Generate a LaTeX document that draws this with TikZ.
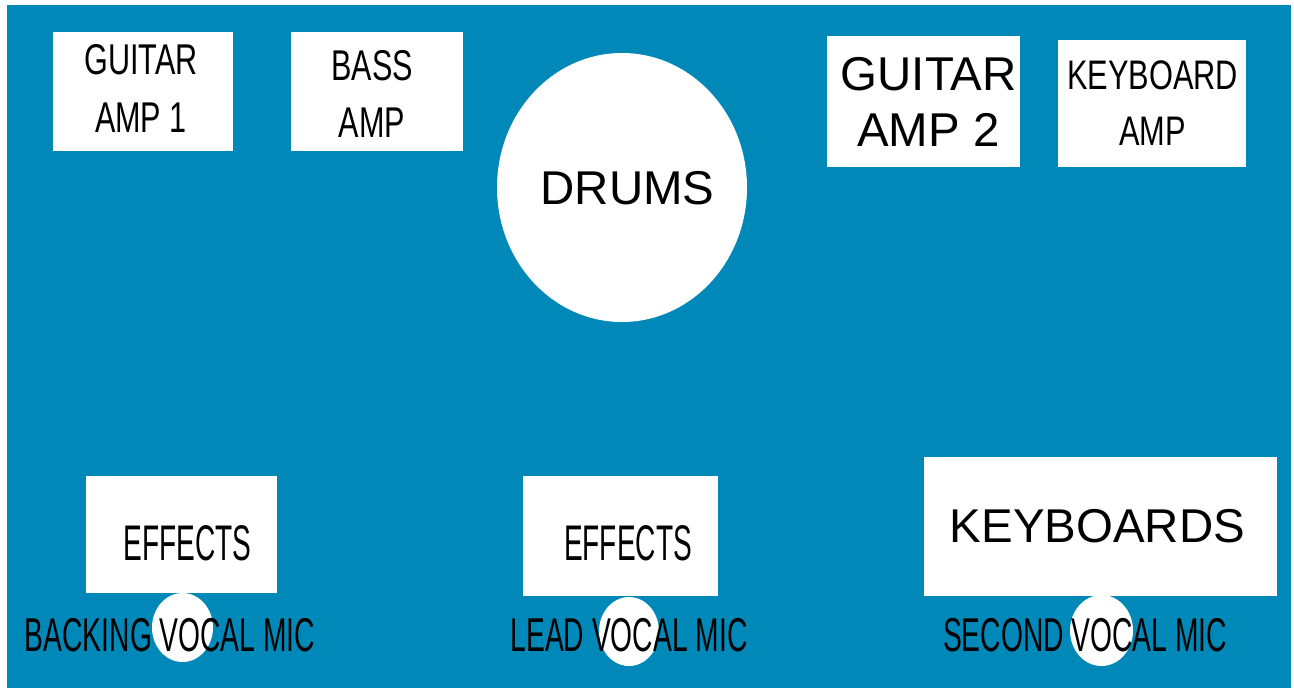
\documentclass[tikz,border=0pt]{standalone}
\usepackage{fontspec}
\setmainfont{Liberation Sans}
\definecolor{stageblue}{RGB}{0,137,184}
\tikzset{
  amptext/.style={font=\fontsize{24.5}{32.5}\selectfont\addfontfeatures{FakeStretch=0.71}, align=center, inner sep=0pt},
  keyamptext/.style={font=\fontsize{23.5}{31.7}\selectfont\addfontfeatures{FakeStretch=0.745}, align=center, inner sep=0pt},
  bigtext/.style={font=\fontsize{27}{31.7}\selectfont, align=center, inner sep=0pt},
  fxtext/.style={font=\fontsize{28.5}{34}\selectfont\addfontfeatures{FakeStretch=0.56}, inner sep=0pt},
  mictext/.style={font=\fontsize{27}{32}\selectfont\addfontfeatures{FakeStretch=0.595}, inner sep=0pt}
}

\begin{document}
\begin{tikzpicture}[x=0.02cm,y=-0.02cm]
	\useasboundingbox (0,0) rectangle (1294,689);
	\fill[stageblue] (7,5) rectangle (1291,688);
	
	% amps at the back
	\fill[white] (53,32) rectangle (233,151);
	\node[amptext] (gtramp1) at (141,88.5) {GUITAR\\AMP 1};
	\fill[white] (291,32) rectangle (463,151);
	\node[amptext] (bassamp) at (372,94) {BASS\\AMP};
	\fill[white] (827,36) rectangle (1020,167);
	\node[bigtext] (gtramp2) at (928.5,102) {GUITAR\\AMP 2};
	\fill[white] (1058,40) rectangle (1246,167);
	\node[keyamptext] (keyamp) at (1152.5,103) {KEYBOARD\\AMP};
	
	% drum kit
	\fill[white] (622,187.5) ellipse (125 and 134.5);
	\node[bigtext] (drums) at (627.5,188) {DRUMS};
	
	% front line
	\fill[white] (86,476) rectangle (277,593);
	\node[fxtext] (fx1) at (187.5,543) {EFFECTS};
	\fill[white] (523,476) rectangle (718,596);
	\node[fxtext] (fx2) at (628,543) {EFFECTS};
	\fill[white] (924,457) rectangle (1277,596);
	\node[bigtext] (keys) at (1097.5,526.5) {KEYBOARDS};
	
	% vocal mics
	\fill[white] (182.5,627.5) ellipse (30.5 and 34.5);
	\node[mictext] (backmic) at (170,635.5) {BACKING VOCAL MIC};
	\fill[white] (629,631.5) ellipse (30 and 34.5);
	\node[mictext] (leadmic) at (629,635.5) {LEAD VOCAL MIC};
	\fill[white] (1101.5,630.5) ellipse (31.5 and 35.5);
	\node[mictext] (secmic) at (1085,635) {SECOND VOCAL MIC};
\end{tikzpicture}
\end{document}
